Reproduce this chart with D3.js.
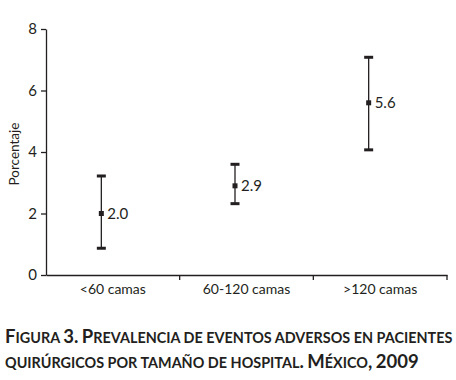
<!DOCTYPE html>
<html>
<head>
<meta charset="utf-8">
<script src="https://cdn.jsdelivr.net/npm/d3@7"></script>
<style>
  body { margin: 0; background: #fff; }
  svg { display: block; }
  text { font-family: Lato, "Open Sans", sans-serif; fill: #231f20; }
  .caption { font-weight: bold; }
</style>
</head>
<body>
<div id="chart"></div>
<script>
// data
let categories = ["<60 camas", "60-120 camas", ">120 camas"];
let estimates = [2.0, 2.9, 5.6];
let lowerCI = [0.87, 2.32, 4.07];
let upperCI = [3.22, 3.6, 7.08];
let yTicks = [0, 2, 4, 6, 8];

let width = 456, height = 380;
let margin = {top: 29, right: 9, bottom: 105, left: 46};
let ink = "#231f20";

let svg = d3.select("#chart").append("svg")
    .attr("width", width)
    .attr("height", height);

let x = d3.scaleBand()
    .domain(categories)
    .range([margin.left, width - margin.right])
    .padding(0);

let y = d3.scaleLinear()
    .domain([0, 8])
    .range([height - margin.bottom, margin.top]);

// y axis
let yAxis = svg.append("g")
    .attr("transform", `translate(${margin.left},0)`)
    .call(d3.axisLeft(y).tickValues(yTicks).tickSize(5).tickSizeOuter(0).tickPadding(4));
yAxis.select(".domain").attr("stroke", ink).attr("stroke-width", 1.3);
yAxis.selectAll(".tick line").attr("stroke", ink).attr("stroke-width", 1.3);
yAxis.selectAll(".tick text").attr("font-size", 15).attr("font-family", "Lato, sans-serif").attr("fill", ink);

// x axis
let xAxis = svg.append("g")
    .attr("transform", `translate(0,${y(0)})`)
    .call(d3.axisBottom(x).tickSize(0).tickSizeOuter(0).tickPadding(9));
xAxis.select(".domain").attr("stroke", ink).attr("stroke-width", 1.3);
xAxis.selectAll(".tick text").attr("font-size", 14).attr("font-family", "Lato, sans-serif").attr("fill", ink);

// boundary ticks between bands
svg.append("g").selectAll("line")
    .data(categories)
    .join("line")
    .attr("x1", d => x(d) + x.bandwidth())
    .attr("x2", d => x(d) + x.bandwidth())
    .attr("y1", y(0))
    .attr("y2", y(0) + 5)
    .attr("stroke", ink)
    .attr("stroke-width", 1.3);

// y label
svg.append("text")
    .attr("transform", `translate(19,${y(4) + 2}) rotate(-90)`)
    .attr("text-anchor", "middle")
    .attr("font-size", 13.5)
    .text("Porcentaje");

// error bars
let offset = -11.5;
let capW = 9;
let bars = svg.append("g").selectAll("g")
    .data(categories)
    .join("g")
    .attr("transform", d => `translate(${x(d) + x.bandwidth() / 2 + offset},0)`);

bars.append("line")
    .attr("y1", (d, i) => y(lowerCI[i]))
    .attr("y2", (d, i) => y(upperCI[i]))
    .attr("stroke", ink)
    .attr("stroke-width", 1.3);

bars.append("line")
    .attr("x1", -capW / 2).attr("x2", capW / 2)
    .attr("y1", (d, i) => y(upperCI[i])).attr("y2", (d, i) => y(upperCI[i]))
    .attr("stroke", ink).attr("stroke-width", 3);

bars.append("line")
    .attr("x1", -capW / 2).attr("x2", capW / 2)
    .attr("y1", (d, i) => y(lowerCI[i])).attr("y2", (d, i) => y(lowerCI[i]))
    .attr("stroke", ink).attr("stroke-width", 3);

bars.append("rect")
    .attr("x", -2.5)
    .attr("y", (d, i) => y(estimates[i]) - 2.5)
    .attr("width", 5)
    .attr("height", 5)
    .attr("fill", ink);

bars.append("text")
    .attr("x", 6)
    .attr("y", (d, i) => y(estimates[i]))
    .attr("dy", "0.35em")
    .attr("font-size", 15)
    .text((d, i) => d3.format(".1f")(estimates[i]));

// caption (small caps)
let captionLines = [
    "Figura 3. Prevalencia de eventos adversos en pacientes",
    "quirúrgicos por tamaño de hospital. México, 2009"
];

function smallCaps(sel, str) {
    // split into runs of upper-case/digits vs lower-case
    let runs = str.match(/([A-ZÁÉÍÓÚÑ0-9.,]+|[^A-ZÁÉÍÓÚÑ0-9.,]+)/g);
    runs.forEach(r => {
        let big = /[A-ZÁÉÍÓÚÑ0-9.,]/.test(r[0]);
        sel.append("tspan")
            .attr("font-size", big ? 18.5 : 14.4)
            .text(r.toUpperCase());
    });
}

let cap1 = svg.append("text").attr("class", "caption").attr("x", 5).attr("y", 343);
smallCaps(cap1, captionLines[0]);
let cap2 = svg.append("text").attr("class", "caption").attr("x", 5).attr("y", 368);
smallCaps(cap2, captionLines[1]);
</script>
</body>
</html>
